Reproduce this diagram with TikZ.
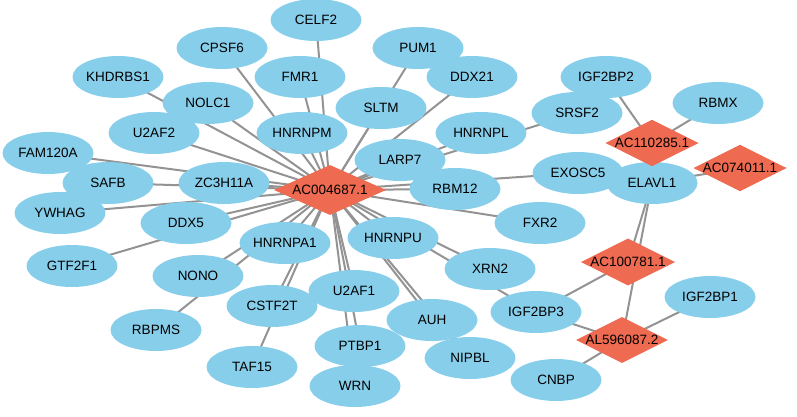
\documentclass[tikz,border=0pt]{standalone}
\usepackage{fontspec}
\setmainfont{Liberation Sans}
\usetikzlibrary{shapes.geometric}
\definecolor{eb}{HTML}{87CEEB}
\definecolor{dm}{HTML}{EE6A50}
\tikzset{
 gene/.style={ellipse,fill=eb,minimum width=91pt,minimum height=42pt,inner sep=0pt,font=\fontsize{13.5}{13.5}\selectfont},
 lnc/.style={diamond,fill=dm,minimum width=92pt,minimum height=46pt,inner sep=0pt,font=\fontsize{13.5}{13.5}\selectfont,aspect=2},
 hubs/.style={lnc,minimum width=112pt,minimum height=50pt},
 ed/.style={draw=gray!85,line width=2pt}
}
\begin{document}
\begin{tikzpicture}[x=1pt,y=-1pt]
\useasboundingbox (0,0) rectangle (797,416);
\foreach \n/\x/\y in {CELF2/316/20,CPSF6/222/48,PUM1/418/48,FMR1/300/77,DDX21/472/77,KHDRBS1/118/77,NOLC1/208/103,SLTM/381/108,SRSF2/577/113,U2AF2/154/133,HNRNPM/302/133,HNRNPL/481/133,LARP7/400/160,FAM120A/48/153,EXOSC5/578/173,SAFB/108/183,ZC3H11A/224/183,RBM12/455/189,YWHAG/60/213,DDX5/186/223,FXR2/540/223,HNRNPU/393/238,HNRNPA1/285/243,GTF2F1/72/266,NONO/198/276,XRN2/490/269,U2AF1/354/291,CSTF2T/272/306,IGF2BP3/536/312,AUH/432/320,RBPMS/156/330,PTBP1/360/346,NIPBL/470/358,TAF15/252/367,WRN/355/386}
 {\path (\x,\y) coordinate (c\n);}
\foreach \n in {CELF2,CPSF6,PUM1,FMR1,DDX21,KHDRBS1,NOLC1,SLTM,SRSF2,U2AF2,HNRNPM,HNRNPL,LARP7,FAM120A,EXOSC5,SAFB,ZC3H11A,RBM12,YWHAG,DDX5,FXR2,HNRNPU,HNRNPA1,GTF2F1,NONO,XRN2,U2AF1,CSTF2T,IGF2BP3,AUH,RBPMS,PTBP1,NIPBL,TAF15,WRN}
 {\draw[ed] (330,190) -- (c\n);}
\coordinate (hubc) at (330,190);
\foreach \n/\x/\y in {IGF2BP2/606/77,RBMX/718/103,ELAVL1/652/183,IGF2BP1/710/297,CNBP/556/380}
 {\path (\x,\y) coordinate (c\n);}
\path (652,143) coordinate (cA) (740,168) coordinate (cB) (628,262) coordinate (cC) (622,340) coordinate (cD);
\foreach \a/\b in {A/IGF2BP2,A/RBMX,A/ELAVL1,B/ELAVL1,C/ELAVL1,D/ELAVL1,C/IGF2BP3,D/IGF2BP3,D/CNBP,D/IGF2BP1}
 {\draw[ed] (c\a) -- (c\b);}
\foreach \n in {CELF2,CPSF6,PUM1,FMR1,DDX21,KHDRBS1,NOLC1,SLTM,SRSF2,U2AF2,HNRNPM,HNRNPL,LARP7,FAM120A,EXOSC5,SAFB,ZC3H11A,RBM12,YWHAG,DDX5,FXR2,HNRNPU,HNRNPA1,GTF2F1,NONO,XRN2,U2AF1,CSTF2T,IGF2BP3,AUH,RBPMS,PTBP1,NIPBL,TAF15,WRN,IGF2BP2,RBMX,ELAVL1,IGF2BP1,CNBP}
 {\node[gene] (\n) at (c\n) {\n};}
\node[hubs] (hub) at (hubc) {AC004687.1};
\node[lnc] (A) at (cA) {AC110285.1};
\node[lnc] (B) at (cB) {AC074011.1};
\node[lnc] (C) at (cC) {AC100781.1};
\node[lnc] (D) at (cD) {AL596087.2};
\end{tikzpicture}
\end{document}
